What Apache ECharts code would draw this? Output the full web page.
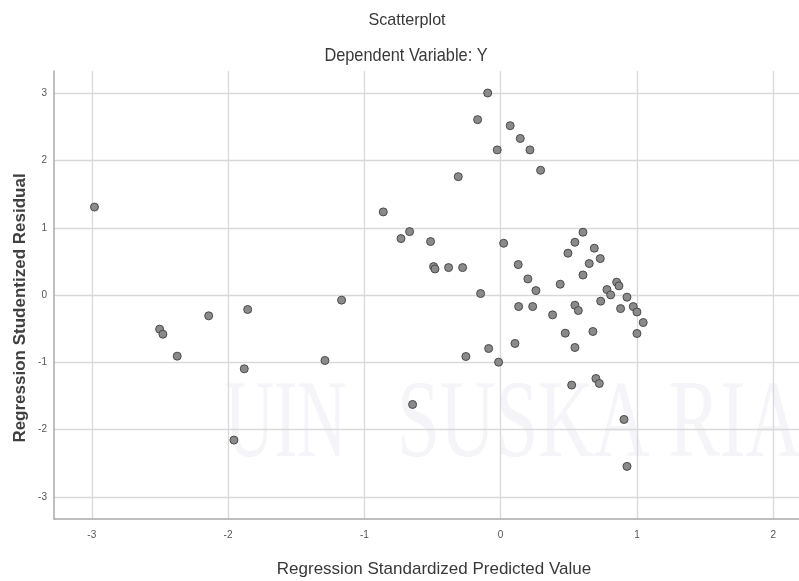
<!DOCTYPE html>
<html>
<head>
<meta charset="utf-8">
<script src="https://cdn.jsdelivr.net/npm/echarts@6/dist/echarts.min.js"></script>
<style>html,body{margin:0;padding:0;background:#fff;}#c{width:799px;height:581px;}</style>
</head>
<body>
<div id="c"></div>
<script>
// Regression Standardized Predicted Value (x) and Studentized Residual (y)
const predicted = [-2.98,-0.095,-0.169,0.070,0.144,-0.025,0.215,0.293,-0.311,-0.861,-0.731,-0.668,-0.514,0.022,-0.492,-0.482,-0.382,-0.279,0.129,0.2,0.259,-0.147,-1.167,0.132,0.235,0.604,0.545,0.494,0.687,0.731,0.650,0.604,0.437,0.851,0.868,0.78,0.807,0.927,0.734,0.880,0.973,1.0,1.046,1.0,0.381,0.545,0.57,0.474,0.677,0.105,0.545,-2.502,-2.478,-2.373,-2.142,-1.856,-1.881,-1.957,-1.289,-0.088,-0.255,-0.015,-0.646,0.521,0.699,0.724,0.905,0.927];
const residual = [1.31,3.006,2.61,2.52,2.33,2.16,2.16,1.857,1.762,1.238,0.841,0.945,0.797,0.772,0.425,0.39,0.41,0.41,0.455,0.242,0.068,0.024,-0.074,-0.169,-0.169,0.936,0.787,0.624,0.698,0.544,0.47,0.30,0.163,0.193,0.138,0.083,0.004,-0.03,-0.089,-0.2,-0.17,-0.25,-0.407,-0.57,-0.293,-0.149,-0.228,-0.565,-0.54,-0.718,-0.778,-0.505,-0.58,-0.907,-0.307,-0.213,-1.095,-2.155,-0.971,-0.793,-0.912,-0.996,-1.625,-1.337,-1.239,-1.313,-1.848,-2.546];
const titleText = 'Scatterplot';
const subtitleText = 'Dependent Variable: Y';
const xName = 'Regression Standardized Predicted Value';
const yName = 'Regression Studentized Residual';
const watermarkA = 'UIN';
const watermarkB = 'SUSKA RIAU';

const pts = predicted.map((x, i) => [x, residual[i]]);
const sans = '"Liberation Sans", Arial, sans-serif';
const wmFont = '110px "Liberation Serif", "Times New Roman", serif';
const wmColor = '#f4f4f9';

const chart = echarts.init(document.getElementById('c'), null, {renderer: 'canvas'});
chart.setOption({
  animation: false,
  backgroundColor: '#ffffff',
  graphic: [
    {type: 'text', x: 225, y: 372, scaleX: 0.62, z: -10, silent: true,
     style: {text: watermarkA, font: wmFont, fill: wmColor}},
    {type: 'text', x: 397, y: 372, scaleX: 0.70, z: -10, silent: true,
     style: {text: watermarkB, font: wmFont, fill: wmColor}},
    {type: 'text', x: 407, y: 20, scaleX: 0.95, silent: true,
     style: {text: titleText, font: '17px ' + sans, fill: '#383838', align: 'center', verticalAlign: 'middle'}},
    {type: 'text', x: 406, y: 56, scaleX: 0.86, silent: true,
     style: {text: subtitleText, font: '19px ' + sans, fill: '#383838', align: 'center', verticalAlign: 'middle'}},
    {type: 'text', x: 434, y: 569, silent: true,
     style: {text: xName, font: '17px ' + sans, fill: '#383838', align: 'center', verticalAlign: 'middle'}},
    {type: 'text', x: 20, y: 308, rotation: Math.PI / 2, silent: true,
     style: {text: yName, font: 'bold 17px ' + sans, fill: '#404040', align: 'center', verticalAlign: 'middle'}}
  ],
  grid: {left: 54, right: 0, top: 71, bottom: 62, containLabel: false},
  xAxis: {
    type: 'value', min: -3.277, max: 2.189, splitNumber: 5,
    axisLine: {show: true, onZero: false, lineStyle: {color: '#aaaaaa', width: 1.5}},
    axisTick: {show: false},
    axisLabel: {showMinLabel: false, showMaxLabel: false, color: '#555', fontSize: 10, fontFamily: sans, margin: 11},
    splitLine: {show: true, showMinLine: false, showMaxLine: false, lineStyle: {color: '#d9d9d9', width: 1.3}}
  },
  yAxis: {
    type: 'value', min: -3.328, max: 3.333, splitNumber: 6,
    axisLine: {show: true, onZero: false, lineStyle: {color: '#aaaaaa', width: 1.5}},
    axisTick: {show: false},
    axisLabel: {showMinLabel: false, showMaxLabel: false, color: '#555', fontSize: 10, fontFamily: sans, margin: 7},
    splitLine: {show: true, showMinLine: false, showMaxLine: false, lineStyle: {color: '#d9d9d9', width: 1.3}}
  },
  series: [{
    type: 'scatter', data: pts, symbol: 'circle', symbolSize: 8,
    itemStyle: {color: '#8a8a8a', borderColor: '#4a4a4a', borderWidth: 1, opacity: 1}
  }]
});
</script>
</body>
</html>
